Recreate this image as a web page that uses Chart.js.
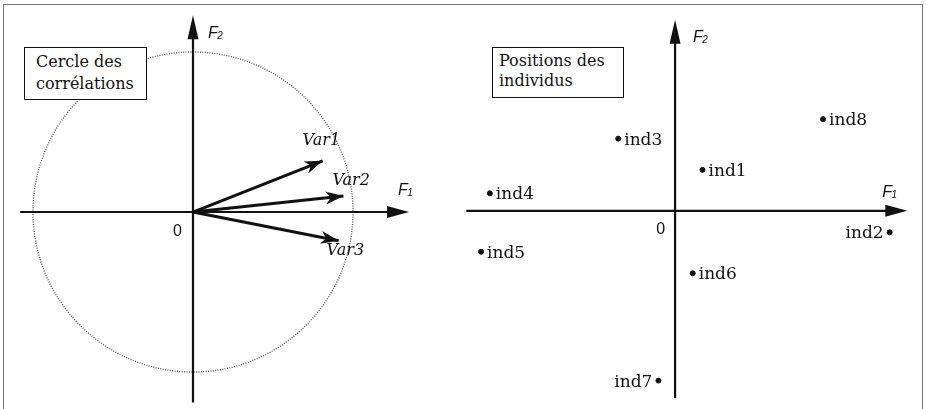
<!DOCTYPE html>
<html>
<head>
<meta charset="utf-8">
<script src="https://cdn.jsdelivr.net/npm/chart.js@4.4.1/dist/chart.umd.min.js"></script>
<style>
  body { margin: 0; background: #fff; width: 927px; height: 409px; overflow: hidden; position: relative; }
  #frame { position: absolute; left: 3px; top: 4px; width: 918px; height: 430px; border: 1.5px solid #777; border-bottom: none; }
  canvas { position: absolute; top: 0; }
  #left { left: 0; }
  #right { left: 430px; }
  .box { position: absolute; box-sizing: border-box; background: #fff; border: 1.5px solid #111; color: #111;
         font-family: "DejaVu Serif", serif; font-size: 16px; white-space: nowrap; }
  #box1 { left: 24px; top: 47px; width: 123px; height: 53px; padding: 3px 0 0 11px; line-height: 22px; }
  #box2 { left: 492px; top: 47px; width: 132px; height: 51px; padding: 3px 0 0 6px; line-height: 20px; }
</style>
</head>
<body>
<div id="frame"></div>
<canvas id="left" width="430" height="409"></canvas>
<canvas id="right" width="497" height="409"></canvas>
<div class="box" id="box1">Cercle des<br>corrélations</div>
<div class="box" id="box2">Positions des<br>individus</div>
<script>
// variables on the correlation circle (coordinates on F1, F2)
const varNames = ['Var1', 'Var2', 'Var3'];
const varF1 = [0.81, 0.94, 0.91];
const varF2 = [0.32, 0.10, -0.18];

// individuals on the factorial plane
const indNames = ['ind1', 'ind2', 'ind3', 'ind4', 'ind5', 'ind6', 'ind7', 'ind8'];
const indF1 = [0.56, 4.38, -1.16, -3.78, -3.96, 0.36, -0.34, 3.02];
const indF2 = [0.84, -0.44, 1.48, 0.36, -0.84, -1.28, -3.48, 1.88];

const axisNames = ['F', 'F'];
const axisSubs = ['1', '2'];
const originLabel = '0';

// label placement (pixels), kept apart from the data
const varLabelOffsets = [[-20, -16], [-11, -11], [-12, 14]];
const indLabelSide = ['r', 'l', 'r', 'r', 'r', 'r', 'l', 'r'];

const ink = '#111';

function arrowHead(ctx, x0, y0, x1, y1, len, half, notch) {
    const a = Math.atan2(y1 - y0, x1 - x0);
    const c = Math.cos(a), s = Math.sin(a);
    ctx.beginPath();
    ctx.moveTo(x1, y1);
    ctx.lineTo(x1 - len * c + half * s, y1 - len * s - half * c);
    ctx.lineTo(x1 - len * notch * c, y1 - len * notch * s);
    ctx.lineTo(x1 - len * c - half * s, y1 - len * s + half * c);
    ctx.closePath();
    ctx.fill();
}

function axisLabel(ctx, x, y, i) {
    ctx.font = 'italic 16px "Liberation Sans", sans-serif';
    ctx.textAlign = 'left';
    ctx.textBaseline = 'alphabetic';
    ctx.fillText(axisNames[i], x, y);
    const w = ctx.measureText(axisNames[i]).width;
    ctx.font = 'italic 10px "Liberation Sans", sans-serif';
    ctx.fillText(axisSubs[i], x + w - 0.5, y + 1);
}

// axes, arrows, circle and origin label
const pcaAxes = {
    id: 'pcaAxes',
    beforeDatasetsDraw(chart, args, o) {
        const ctx = chart.ctx;
        const xs = chart.scales.x, ys = chart.scales.y;
        const ox = xs.getPixelForValue(0), oy = ys.getPixelForValue(0);
        ctx.save();
        if (o.circle) {
            const r = xs.getPixelForValue(1) - ox;
            ctx.strokeStyle = '#555';
            ctx.lineWidth = 1.4;
            ctx.setLineDash([1, 1.4]);
            ctx.beginPath();
            ctx.arc(ox, oy, r, 0, Math.PI * 2);
            ctx.stroke();
            ctx.setLineDash([]);
        }
        const x0 = xs.getPixelForValue(o.xFrom), x1 = xs.getPixelForValue(o.xTo);
        const y0 = ys.getPixelForValue(o.yFrom), y1 = ys.getPixelForValue(o.yTo);
        ctx.strokeStyle = ink;
        ctx.fillStyle = ink;
        ctx.lineWidth = 2.2;
        ctx.beginPath();
        ctx.moveTo(x0, oy); ctx.lineTo(x1 - 10, oy);
        ctx.moveTo(ox, y0); ctx.lineTo(ox, y1 + 10);
        ctx.stroke();
        arrowHead(ctx, x0, oy, x1, oy, 22, 6, 1);
        arrowHead(ctx, ox, y0, ox, y1, 24, 5.5, 1);
        axisLabel(ctx, x1 + o.f1[0], oy + o.f1[1], 0);
        axisLabel(ctx, ox + o.f2[0], y1 + o.f2[1], 1);
        ctx.font = '16px "Liberation Sans", sans-serif';
        ctx.textAlign = 'right';
        ctx.fillText(originLabel, ox + o.zero[0], oy + o.zero[1]);
        ctx.restore();
    },
    afterDatasetsDraw(chart, args, o) {
        const ctx = chart.ctx;
        const xs = chart.scales.x, ys = chart.scales.y;
        const ox = xs.getPixelForValue(0), oy = ys.getPixelForValue(0);
        ctx.save();
        ctx.fillStyle = ink;
        if (o.vectors) {
            ctx.font = 'italic 16px "DejaVu Serif", serif';
            ctx.textAlign = 'left';
            varNames.forEach((name, i) => {
                const tx = xs.getPixelForValue(varF1[i]), ty = ys.getPixelForValue(varF2[i]);
                arrowHead(ctx, ox, oy, tx, ty, 18, 6.5, 0.7);
                ctx.fillText(name, tx + varLabelOffsets[i][0], ty + varLabelOffsets[i][1]);
            });
        } else {
            ctx.font = '17px "DejaVu Serif", serif';
            indNames.forEach((name, i) => {
                const px = xs.getPixelForValue(indF1[i]), py = ys.getPixelForValue(indF2[i]);
                if (indLabelSide[i] === 'r') {
                    ctx.textAlign = 'left';
                    ctx.fillText(name, px + 6, py + 6);
                } else {
                    ctx.textAlign = 'right';
                    ctx.fillText(name, px - 6, py + 6);
                }
            });
        }
        ctx.restore();
    }
};

function hiddenScale(min, max) {
    return { type: 'linear', display: false, bounds: 'data', min: min, max: max };
}

const baseOptions = {
    responsive: false,
    animation: false,
    devicePixelRatio: 1,
    layout: { padding: 0 },
    events: []
};

// left: correlation circle, 160 px per unit
const vectorSets = varNames.map((name, i) => ({
    label: name,
    data: [{ x: 0, y: 0 }, { x: varF1[i], y: varF2[i] }],
    showLine: true,
    borderColor: ink,
    borderWidth: 3,
    pointRadius: 0
}));

new Chart(document.getElementById('left').getContext('2d'), {
    type: 'scatter',
    data: { datasets: vectorSets },
    options: Object.assign({}, baseOptions, {
        scales: { x: hiddenScale(-1.206, 1.481), y: hiddenScale(-1.231, 1.325) },
        plugins: {
            legend: { display: false },
            tooltip: { enabled: false },
            pcaAxes: { circle: true, vectors: true, xFrom: -1.08, xTo: 1.35, yFrom: -1.19, yTo: 1.23,
                       f1: [-11, -17], f2: [15, 23], zero: [-11, 24] }
        }
    }),
    plugins: [pcaAxes]
});

// right: individuals, 50 px per unit
new Chart(document.getElementById('right').getContext('2d'), {
    type: 'scatter',
    data: {
        datasets: [{
            label: 'individus',
            data: indNames.map((n, i) => ({ x: indF1[i], y: indF2[i] })),
            backgroundColor: ink,
            borderColor: ink,
            pointRadius: 2.5
        }]
    },
    options: Object.assign({}, baseOptions, {
        scales: { x: hiddenScale(-4.9, 5.04), y: hiddenScale(-3.96, 4.22) },
        plugins: {
            legend: { display: false },
            tooltip: { enabled: false },
            pcaAxes: { circle: false, vectors: false, xFrom: -4.26, xTo: 4.74, yFrom: -3.84, yTo: 3.92,
                       f1: [-25, -14], f2: [18, 22], zero: [-10, 23] }
        }
    }),
    plugins: [pcaAxes]
});
</script>
</body>
</html>
